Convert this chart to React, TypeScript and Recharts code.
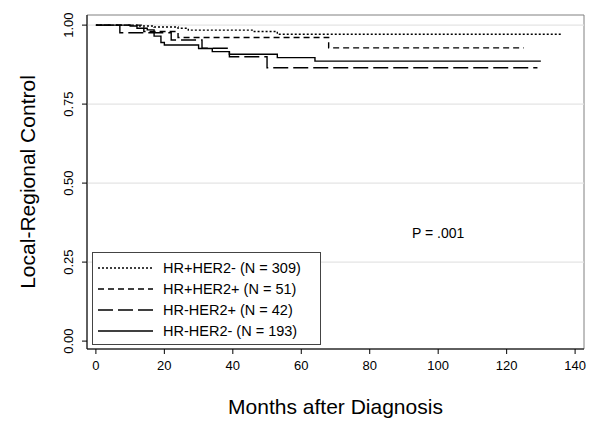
import React from "react";
import {
  LineChart, Line, XAxis, YAxis, ReferenceLine, ReferenceArea, ReferenceDot, Label
} from "recharts";

const FONT = "'Liberation Sans', Arial, Helvetica, sans-serif";

// axis ticks
const xTicks = [0, 20, 40, 60, 80, 100, 120, 140];
const yTicks = [0, 0.25, 0.5, 0.75, 1];
const gridValues = [0.25, 0.5, 0.75, 1];

// Kaplan-Meier curves (months, proportion free of local-regional recurrence)
const hrPosHer2NegMonths = [0, 12, 17, 24, 27, 46, 53, 136];
const hrPosHer2NegSurv = [1, 0.997, 0.994, 0.99, 0.984, 0.98, 0.971, 0.971];

const hrPosHer2PosMonths = [0, 14, 24, 68, 125];
const hrPosHer2PosSurv = [1, 0.98, 0.961, 0.928, 0.928];

const hrNegHer2PosMonths = [0, 7, 22, 31, 39, 50, 129];
const hrNegHer2PosSurv = [1, 0.976, 0.953, 0.927, 0.9, 0.865, 0.865];

const hrNegHer2NegMonths = [0, 10, 12, 15, 17, 19, 20, 30, 34, 39, 53, 64, 130];
const hrNegHer2NegSurv = [1, 0.997, 0.99, 0.985, 0.965, 0.945, 0.937, 0.926, 0.916, 0.908, 0.897, 0.886, 0.886];

const pValueText = "P = .001";
const pValueAt = { x: 100, y: 0.342 };

const toPoints = (months: number[], surv: number[]) =>
  months.map((m, i) => ({ m, v: surv[i] }));

const series = [
  { name: "HR+HER2- (N = 309)", data: toPoints(hrPosHer2NegMonths, hrPosHer2NegSurv), dash: "2 2" },
  { name: "HR+HER2+ (N = 51)", data: toPoints(hrPosHer2PosMonths, hrPosHer2PosSurv), dash: "6 4" },
  { name: "HR-HER2+ (N = 42)", data: toPoints(hrNegHer2PosMonths, hrNegHer2PosSurv), dash: "15 5" },
  { name: "HR-HER2- (N = 193)", data: toPoints(hrNegHer2NegMonths, hrNegHer2NegSurv), dash: undefined },
];

const X_DOMAIN: [number, number] = [-2.6, 142.6];
const Y_DOMAIN: [number, number] = [-0.025, 1.032];

function YTick(props: any) {
  const { x, y, payload } = props;
  return (
    <text x={x} y={y} transform={`rotate(-90 ${x} ${y})`} textAnchor="middle"
      fontSize={13} fill="#000" fontFamily={FONT}>
      {Number(payload.value).toFixed(2)}
    </text>
  );
}

function LegendBox() {
  const rowY = [16, 37, 58, 79];
  return (
    <svg width={229} height={93} style={{ position: "absolute", left: 84, top: 244 }}>
      <rect x={0.5} y={0.5} width={228} height={92} fill="#fff" stroke="#444" />
      {series.map((s, i) => (
        <g key={s.name}>
          <line x1={6} x2={61} y1={rowY[i]} y2={rowY[i]} stroke="#000" strokeWidth={1.3}
            strokeDasharray={s.dash} />
          <text x={71} y={rowY[i] + 5} fontSize={14.5} fontFamily={FONT} fill="#000">{s.name}</text>
        </g>
      ))}
    </svg>
  );
}

export default function App() {
  return (
    <div style={{ position: "relative", width: 592, height: 429, fontFamily: FONT, background: "#fff" }}>
      <LineChart width={592} height={429} margin={{ top: 7, right: 16, left: 0, bottom: 0 }}>
        <XAxis type="number" dataKey="m" domain={X_DOMAIN} ticks={xTicks} allowDataOverflow
          height={88} tickSize={5} tickMargin={7} stroke="#000"
          tick={{ fontSize: 13, fill: "#000", fontFamily: FONT }}>
          <Label content={(p: any) => {
            const vb = p.viewBox;
            return (
              <text x={vb.x + vb.width / 2} y={vb.y + 65} textAnchor="middle" fontSize={21}
                fontFamily={FONT} fill="#000">Months after Diagnosis</text>
            );
          }} />
        </XAxis>
        <YAxis type="number" domain={Y_DOMAIN} ticks={yTicks} allowDataOverflow width={79}
          tickSize={5} tickMargin={9} stroke="#000" tick={<YTick />}>
          <Label content={(p: any) => {
            const vb = p.viewBox;
            const x = vb.x + 27;
            const y = vb.y + vb.height / 2;
            return (
              <text x={x} y={y} transform={`rotate(-90 ${x} ${y})`} textAnchor="middle"
                fontSize={21} fontFamily={FONT} fill="#000">Local-Regional Control</text>
            );
          }} />
        </YAxis>
        {gridValues.map((g) => (
          <ReferenceLine key={g} y={g} stroke="#e4e4e4" strokeWidth={1.3} />
        ))}
        <ReferenceArea x1={X_DOMAIN[0]} x2={X_DOMAIN[1]} y1={Y_DOMAIN[0]} y2={Y_DOMAIN[1]}
          fill="none" fillOpacity={0} stroke="#808080" strokeWidth={1} />
        {series.map((s) => (
          <Line key={s.name} data={s.data} dataKey="v" type="stepAfter" stroke="#000"
            strokeWidth={1.4} strokeDasharray={s.dash} dot={false} activeDot={false}
            isAnimationActive={false} />
        ))}
        <ReferenceDot x={pValueAt.x} y={pValueAt.y} r={0} stroke="none" fill="none"
          label={{ value: pValueText, position: "center", fontSize: 14, fill: "#000", fontFamily: FONT }} />
      </LineChart>
      <LegendBox />
    </div>
  );
}
